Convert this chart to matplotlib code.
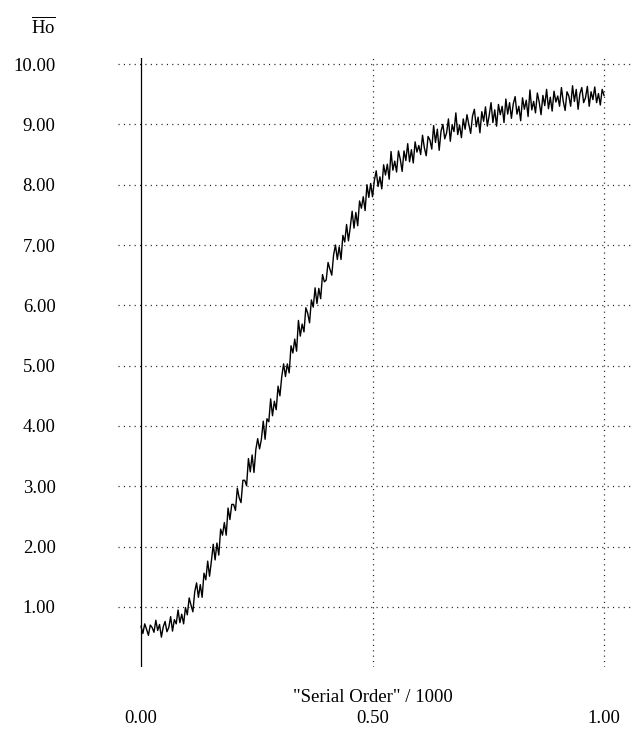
import numpy as np
import matplotlib
matplotlib.use("Agg")
import matplotlib.pyplot as plt

plt.rcParams['font.family'] = ['Liberation Serif', 'DejaVu Serif']
plt.rcParams['mathtext.fontset'] = 'custom'
plt.rcParams['mathtext.rm'] = 'Liberation Serif'

# Serial order / 1000, one value every 0.004
ho_values = [
    0.68, 0.56, 0.72, 0.63, 0.53, 0.70, 0.66, 0.58, 0.78, 0.61, 0.71, 0.50, 0.67, 0.76, 0.59, 0.66, 0.84, 0.60, 0.79, 0.72, 0.95, 0.74, 0.88, 0.72, 0.99,
    0.87, 1.15, 1.03, 0.92, 1.25, 1.40, 1.16, 1.37, 1.16, 1.56, 1.45, 1.76, 1.51, 1.76, 2.04, 1.78, 2.06, 1.86, 2.29, 2.19, 2.40, 2.19, 2.64, 2.45, 2.70,
    2.70, 2.60, 2.97, 2.81, 2.73, 3.10, 3.10, 3.01, 3.46, 3.24, 3.52, 3.23, 3.61, 3.79, 3.62, 3.78, 4.08, 3.78, 4.12, 4.07, 4.45, 4.17, 4.41, 4.27, 4.66,
    4.50, 4.82, 5.03, 4.82, 5.03, 4.88, 5.33, 5.21, 5.44, 5.24, 5.75, 5.49, 5.69, 5.56, 5.96, 5.87, 5.71, 6.09, 5.97, 6.29, 6.03, 6.28, 6.11, 6.51, 6.39,
    6.42, 6.71, 6.60, 6.50, 6.84, 7.00, 6.76, 6.97, 6.76, 7.16, 7.05, 7.34, 7.07, 7.30, 7.56, 7.28, 7.54, 7.32, 7.73, 7.61, 7.80, 7.57, 8.00, 7.79, 8.02,
    7.80, 8.07, 8.23, 7.97, 8.13, 7.93, 8.33, 8.16, 8.34, 8.09, 8.55, 8.24, 8.39, 8.21, 8.56, 8.42, 8.22, 8.56, 8.40, 8.68, 8.38, 8.58, 8.36, 8.71, 8.54,
    8.65, 8.50, 8.82, 8.61, 8.48, 8.80, 8.74, 8.59, 8.98, 8.70, 8.92, 8.57, 8.89, 9.00, 8.76, 8.86, 9.09, 8.72, 8.99, 8.88, 9.19, 8.83, 8.99, 8.78, 9.09,
    8.92, 9.16, 9.00, 8.85, 9.14, 9.25, 8.96, 9.12, 8.86, 9.21, 9.05, 9.29, 8.97, 9.15, 9.36, 9.03, 9.24, 8.97, 9.33, 9.16, 9.30, 9.03, 9.42, 9.17, 9.36,
    9.10, 9.34, 9.46, 9.17, 9.30, 9.06, 9.44, 9.25, 9.40, 9.13, 9.57, 9.24, 9.38, 9.19, 9.52, 9.37, 9.16, 9.48, 9.31, 9.58, 9.26, 9.45, 9.22, 9.55, 9.37,
    9.47, 9.30, 9.61, 9.38, 9.23, 9.54, 9.47, 9.30, 9.64, 9.38, 9.58, 9.25, 9.51, 9.61, 9.36, 9.44, 9.63, 9.30, 9.54, 9.41, 9.62, 9.36, 9.51, 9.32, 9.58,
    9.48,
]
serial_order = [i * 0.004 for i in range(len(ho_values))]

y_ticks = [1, 2, 3, 4, 5, 6, 7, 8, 9, 10]
y_tick_labels = ["1.00", "2.00", "3.00", "4.00", "5.00", "6.00", "7.00", "8.00", "9.00", "10.00"]
x_ticks = [0.0, 0.5, 1.0]
x_tick_labels = ["0.00", "0.50", "1.00"]

W, H = 633, 756
fig = plt.figure(figsize=(W / 100, H / 100), dpi=100)
ax = fig.add_axes([118 / W, 1 - 667.3 / H, (W - 118) / W, (667.3 - 58) / H])
ax.set_xlim(-0.0497, 1.0626)
ax.set_ylim(0, 10.1)
for s in ax.spines.values():
    s.set_visible(False)

dot = (0, (0.9, 3.4))
for yv in y_ticks:
    ax.axhline(yv, color='#222222', lw=0.9, linestyle=dot, zorder=1)
for xv in x_ticks[1:]:
    ax.axvline(xv, color='#222222', lw=0.9, linestyle=dot, zorder=1)
ax.axvline(0, color='black', lw=0.9, zorder=2)

ax.plot(serial_order, ho_values, color='black', lw=1.0, zorder=3)

fs = 13.5
ax.set_yticks(y_ticks)
ax.set_yticklabels(y_tick_labels, fontsize=fs)
ax.set_xticks(x_ticks)
ax.set_xticklabels(x_tick_labels, fontsize=fs)
ax.tick_params(axis='y', length=0, pad=45)
ax.tick_params(axis='x', length=0, pad=31)

fig.text(373 / W, 1 - 697 / H, '"Serial Order" / 1000', ha='center', va='center', fontsize=fs)
fig.text(56 / W, 1 - 27 / H, r'$\overline{\mathrm{Ho}}$', ha='right', va='center', fontsize=fs)

fig.savefig("out.png", dpi=100)
